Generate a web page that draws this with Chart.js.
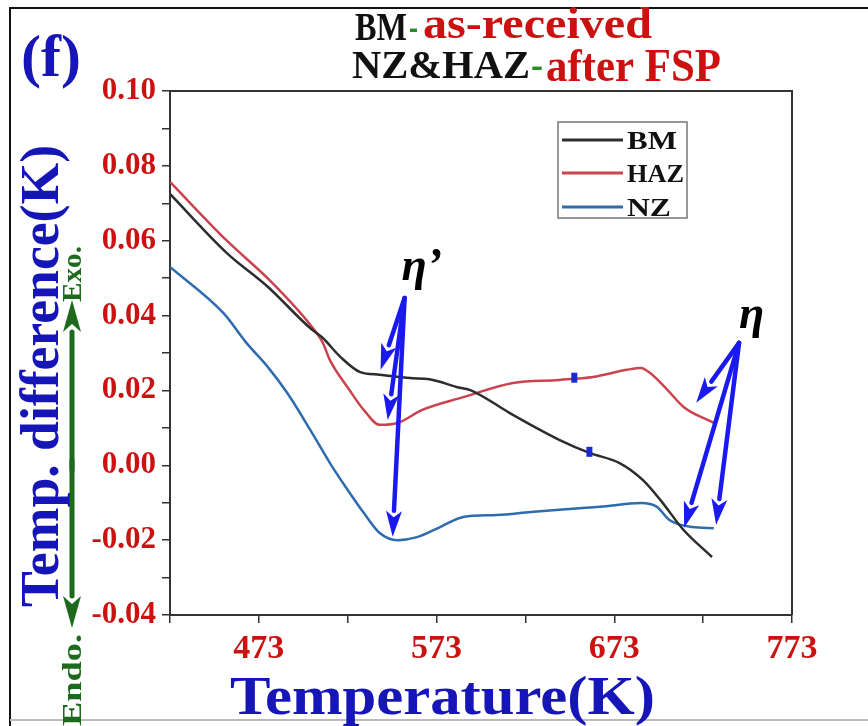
<!DOCTYPE html>
<html><head><meta charset="utf-8">
<script src="https://cdn.jsdelivr.net/npm/chart.js@4.4.0/dist/chart.umd.min.js"></script>
<style>html,body{margin:0;padding:0;background:#fff;}#wrap{width:868px;height:726px;position:relative;}</style>
</head><body><div id="wrap"><canvas id="c" width="868" height="726"></canvas></div>
<script>
// ---- data ----
const bmT  = [423, 455, 478, 502, 509, 519, 530, 541, 558, 569, 586, 592, 614, 626, 642, 659, 676, 689, 699, 712, 728];
const bmV  = [0.0725, 0.0567, 0.0477, 0.0366, 0.0340, 0.0289, 0.0249, 0.0242, 0.0233, 0.0230, 0.0207, 0.0201, 0.0140, 0.0108, 0.0068, 0.0033, 0.0006, -0.0039, -0.0093, -0.0173, -0.0245];
const hazT = [423, 455, 480, 502, 509, 513, 524, 532, 541, 551, 565, 588, 616, 642, 661, 680, 688, 693, 703, 712, 729];
const hazV = [0.0757, 0.0600, 0.0490, 0.0375, 0.0327, 0.0281, 0.0201, 0.0148, 0.0108, 0.0113, 0.0148, 0.0182, 0.0220, 0.0228, 0.0236, 0.0255, 0.0260, 0.0247, 0.0201, 0.0156, 0.0113];
const nzT  = [423, 453, 466, 478, 489, 502, 513, 523, 532, 541, 551, 562, 575, 588, 607, 626, 642, 665, 688, 697, 704, 717, 729];
const nzV  = [0.0530, 0.0407, 0.0327, 0.0263, 0.0193, 0.0094, 0.0006, -0.0066, -0.0127, -0.0181, -0.0200, -0.0192, -0.0165, -0.0138, -0.0133, -0.0125, -0.0119, -0.0111, -0.0101, -0.0111, -0.0146, -0.0165, -0.0168];
const seriesNames = ['BM', 'HAZ', 'NZ'];
const xTickValues = [423, 473, 523, 573, 623, 673, 723, 773];
const xTickLabels = ['473', '573', '673', '773'];
const yTickValues = [-0.04,-0.03,-0.02,-0.01,0.00,0.01,0.02,0.03,0.04,0.05,0.06,0.07,0.08,0.09,0.10];
const yTickLabels = ['-0.04','-0.02','0.00','0.02','0.04','0.06','0.08','0.10'];
// annotation arrows (data units)
const etaPrimeApex = [555.0, 0.0447];
const etaPrimeTips = [[541.5, 0.0255], [545.5, 0.0121], [548.3, -0.0191]];
const etaApex = [743.2, 0.0327];
const etaTips = [[719.1, 0.0167], [712.3, -0.0167], [730.3, -0.0159]];
const etaPrimeLabel = [553.3, 0.0495];
const etaLabel = [743.2, 0.0367];
const blueMarks = [[650.5, 0.0234], [659.0, 0.0036]];

const zip = (t, v) => t.map((x, i) => ({x: x, y: v[i]}));
const colors = ['#2d2d2d', '#c9444e', '#2e6cae'];
const SERIF = '"Liberation Serif", "DejaVu Serif", serif';
const RED = '#cc1111', BLUE = '#1515b8', GREEN = '#1d6a1d';

function fitText(ctx, text, x, y, w, font, color) {
  ctx.save(); ctx.font = font; ctx.textAlign = 'left'; ctx.textBaseline = 'alphabetic';
  const m = ctx.measureText(text).width;
  ctx.translate(x, y); ctx.scale(w / m, 1); ctx.fillStyle = color; ctx.fillText(text, 0, 0);
  ctx.restore();
}
function fitTextV(ctx, text, xBase, yStart, len, font, color) {
  ctx.save(); ctx.font = font; ctx.textAlign = 'left'; ctx.textBaseline = 'alphabetic';
  const m = ctx.measureText(text).width;
  ctx.translate(xBase, yStart); ctx.rotate(-Math.PI / 2); ctx.scale(len / m, 1);
  ctx.fillStyle = color; ctx.fillText(text, 0, 0); ctx.restore();
}
function arrow(ctx, x1, y1, x2, y2, color, lw, hl, hw) {
  const a = Math.atan2(y2 - y1, x2 - x1);
  const bx = x2 - hl * Math.cos(a), by = y2 - hl * Math.sin(a);
  ctx.save(); ctx.strokeStyle = color; ctx.fillStyle = color; ctx.lineWidth = lw; ctx.lineCap = 'round';
  ctx.beginPath(); ctx.moveTo(x1, y1); ctx.lineTo(bx, by); ctx.stroke();
  ctx.beginPath(); ctx.moveTo(x2, y2);
  ctx.lineTo(bx + hw / 2 * Math.sin(a), by - hw / 2 * Math.cos(a));
  ctx.lineTo(bx + hl * 0.25 * Math.cos(a), by + hl * 0.25 * Math.sin(a));
  ctx.lineTo(bx - hw / 2 * Math.sin(a), by + hw / 2 * Math.cos(a));
  ctx.closePath(); ctx.fill(); ctx.restore();
}

const decor = {
  id: 'decor',
  beforeDraw(chart) {
    const ctx = chart.ctx; ctx.save(); ctx.fillStyle = '#fff'; ctx.fillRect(0, 0, chart.width, chart.height); ctx.restore();
  },
  afterDraw(chart) {
    const ctx = chart.ctx, ca = chart.chartArea, xs = chart.scales.x, ys = chart.scales.y;
    const P = p => [xs.getPixelForValue(p[0]), ys.getPixelForValue(p[1])];
    // box top/right
    ctx.save(); ctx.strokeStyle = '#333'; ctx.lineWidth = 2;
    ctx.beginPath(); ctx.moveTo(ca.left, ca.top); ctx.lineTo(ca.right, ca.top); ctx.lineTo(ca.right, ca.bottom); ctx.stroke();
    // outer frame
    ctx.strokeStyle = '#111'; ctx.lineWidth = 2;
    ctx.beginPath(); ctx.moveTo(10, 726); ctx.lineTo(10, 8); ctx.lineTo(868, 8); ctx.stroke();
    ctx.strokeStyle = '#bbb'; ctx.lineWidth = 2;
    ctx.beginPath(); ctx.moveTo(10, 720); ctx.lineTo(868, 720); ctx.stroke();
    ctx.restore();
    // title
    fitText(ctx, 'BM', 355, 40, 52, 'bold 40px ' + SERIF, '#111');
    fitText(ctx, '-', 409, 40, 9, 'bold 40px ' + SERIF, '#2a8a2a');
    fitText(ctx, 'as-received', 423, 38, 229, 'bold 44px ' + SERIF, RED);
    fitText(ctx, 'NZ&HAZ', 352, 78, 178, 'bold 41px ' + SERIF, '#111');
    fitText(ctx, '-', 531, 78, 12, 'bold 41px ' + SERIF, '#2a8a2a');
    fitText(ctx, 'after FSP', 546, 81, 175, 'bold 46px ' + SERIF, RED);
    // (f)
    fitText(ctx, '(f)', 21, 76, 60, 'bold 60px ' + SERIF, BLUE);
    // axis titles
    fitText(ctx, 'Temperature(K)', 230, 714, 425, 'bold 54px ' + SERIF, BLUE);
    fitTextV(ctx, 'Temp. difference(K)', 58, 607, 462, 'bold 54px ' + SERIF, BLUE);
    // Exo / Endo
    fitTextV(ctx, 'Exo.', 81, 302, 56, 'bold 28px ' + SERIF, GREEN);
    fitTextV(ctx, 'Endo.', 81, 726, 92, 'bold 28px ' + SERIF, GREEN);
    arrow(ctx, 72, 470, 72, 300, GREEN, 5, 32, 18);
    arrow(ctx, 72, 460, 72, 628, GREEN, 5, 32, 18);
    // legend
    ctx.save(); ctx.strokeStyle = '#777'; ctx.lineWidth = 1.5; ctx.strokeRect(558, 122, 129, 96); ctx.restore();
    const ly = [140, 173, 207], lw = [50, 57, 44];
    chart.data.datasets.forEach((d, i) => {
      ctx.save(); ctx.strokeStyle = d.borderColor; ctx.lineWidth = 3;
      ctx.beginPath(); ctx.moveTo(562, ly[i]); ctx.lineTo(623, ly[i]); ctx.stroke(); ctx.restore();
      fitText(ctx, d.label, 627, ly[i] + 9, lw[i], 'bold 26px ' + SERIF, '#111');
    });
    // small blue marks on curves
    ctx.save(); ctx.fillStyle = '#1a2ad0';
    blueMarks.forEach(m => { const p = P(m); ctx.fillRect(p[0] - 3, p[1] - 5, 6, 10); });
    ctx.restore();
    // annotation arrows
    const AB = '#1a1af0';
    const a1 = P(etaPrimeApex);
    etaPrimeTips.forEach(t => { const p = P(t); arrow(ctx, a1[0], a1[1], p[0], p[1], AB, 4.5, 26, 16); });
    const a2 = P(etaApex);
    etaTips.forEach(t => { const p = P(t); arrow(ctx, a2[0], a2[1], p[0], p[1], AB, 4.5, 26, 16); });
    const l1 = P(etaPrimeLabel), l2 = P(etaLabel);
    ctx.save(); ctx.fillStyle = '#000'; ctx.font = 'italic bold 46px ' + SERIF; ctx.textAlign = 'left';
    ctx.fillText('η’', l1[0], l1[1]); ctx.fillText('η', l2[0], l2[1]); ctx.restore();
  }
};

new Chart(document.getElementById('c'), {
  type: 'line',
  data: {
    datasets: [
      {label: seriesNames[0], data: zip(bmT, bmV), borderColor: colors[0]},
      {label: seriesNames[1], data: zip(hazT, hazV), borderColor: colors[1]},
      {label: seriesNames[2], data: zip(nzT, nzV), borderColor: colors[2]}
    ].map(d => Object.assign(d, {borderWidth: 2.5, pointRadius: 0, tension: 0.4, fill: false, cubicInterpolationMode: 'monotone'}))
  },
  options: {
    responsive: false, animation: false, devicePixelRatio: 1,
    layout: {padding: {left: 0, top: 91, right: 76, bottom: 0}},
    plugins: {legend: {display: false}, tooltip: {enabled: false}, title: {display: false}},
    scales: {
      x: {
        type: 'linear', min: 423, max: 773,
        afterBuildTicks: s => { s.ticks = xTickValues.map(v => ({value: v})); },
        afterFit: s => { s.height = 111; },
        ticks: {autoSkip: false, maxRotation: 0, padding: 6, color: RED,
          font: {family: SERIF, weight: 'bold', size: 34},
          callback: v => xTickLabels.includes(String(v)) ? String(v) : ''},
        grid: {drawOnChartArea: false, drawTicks: true, tickLength: 8, color: '#333', lineWidth: 1.5},
        border: {display: true, color: '#333', width: 2}
      },
      y: {
        type: 'linear', min: -0.04, max: 0.10,
        afterBuildTicks: s => { s.ticks = yTickValues.map(v => ({value: v})); },
        afterFit: s => { s.width = 170; },
        ticks: {autoSkip: false, padding: 6, color: RED,
          font: {family: SERIF, weight: 'bold', size: 31},
          callback: v => { const t = v.toFixed(2); return yTickLabels.includes(t) ? t : ''; }},
        grid: {drawOnChartArea: false, drawTicks: true, tickLength: 8, color: '#333', lineWidth: 1.5},
        border: {display: true, color: '#333', width: 2}
      }
    }
  },
  plugins: [decor]
});
</script></body></html>
